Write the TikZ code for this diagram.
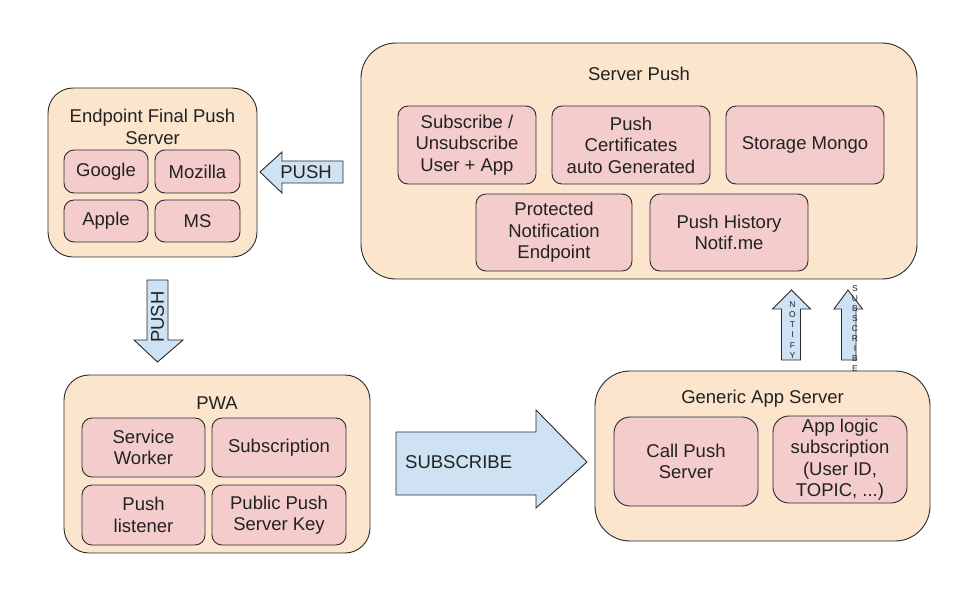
\documentclass[tikz,border=0pt]{standalone}
\usepackage{fontspec}
\setmainfont{Liberation Sans}
\definecolor{peach}{HTML}{FCE5CD}
\definecolor{pinkbox}{HTML}{F4CCCC}
\definecolor{bluearrow}{HTML}{CFE2F3}
\definecolor{ink}{HTML}{222222}
\definecolor{edge}{HTML}{2A2A2A}
\begin{document}
\begin{tikzpicture}[x=1pt,y=-1pt,
  txt/.style={text=ink,font=\fontsize{18.5}{21.5}\selectfont,align=center,inner sep=0pt},
  outerbox/.style={draw=edge,fill=peach,line width=0.9pt,inner sep=0pt},
  innerbox/.style={draw=edge,fill=pinkbox,line width=0.9pt,rounded corners=10pt,inner sep=0pt,txt},
  blockarrow/.style={draw=edge,fill=bluearrow,line width=0.9pt},
  tiny/.style={text=ink,font=\fontsize{8.5}{10.1}\selectfont,align=center,inner sep=0pt}]
\useasboundingbox (0,0) rectangle (960,606);
\fill[white] (0,0) rectangle (960,606);

% Endpoint Final Push Server
\node[outerbox,rounded corners=25pt,minimum width=209pt,minimum height=169pt] (ep) at (152.5,172.5) {};
\node[txt] (eptitle) at (152.5,127) {Endpoint Final Push\\Server};
\node[innerbox,minimum width=84pt,minimum height=43pt] (google) at (106,171.5) {Google};
\node[innerbox,minimum width=85pt,minimum height=43pt] (mozilla) at (197.5,171.5) {Mozilla};
\node[innerbox,minimum width=84pt,minimum height=42pt] (apple) at (106,221) {Apple};
\node[innerbox,minimum width=85pt,minimum height=42pt] (ms) at (197.5,221) {MS};

% Server Push
\node[outerbox,rounded corners=35pt,minimum width=556pt,minimum height=236pt] (sp) at (639,161) {};
\node[txt] (sptitle) at (639,74) {Server Push};
\node[innerbox,minimum width=138pt,minimum height=78pt] (subs) at (467,145) {Subscribe /\\Unsubscribe\\User + App};
\node[innerbox,minimum width=158pt,minimum height=78pt] (cert) at (631,145) {Push\\Certificates\\auto Generated};
\node[innerbox,minimum width=158pt,minimum height=78pt] (mongo) at (805,145) {Storage Mongo};
\node[innerbox,minimum width=156pt,minimum height=77pt] (prot) at (554,232.5) {Protected\\Notification\\Endpoint};
\node[innerbox,minimum width=158pt,minimum height=77pt] (hist) at (729,232.5) {Push History\\Notif.me};

% Generic App Server
\node[outerbox,rounded corners=35pt,minimum width=335pt,minimum height=170pt] (gas) at (762.5,456) {};
\node[txt] (gastitle) at (762.5,399) {Generic App Server};
\node[innerbox,rounded corners=16pt,minimum width=144pt,minimum height=89pt] (call) at (686,461.5) {Call Push\\Server};
\node[innerbox,rounded corners=16pt,minimum width=134pt,minimum height=87pt] (logic) at (840,459.5) {App logic\\subscription\\(User ID,\\TOPIC, ...)};

% PWA
\node[outerbox,rounded corners=25pt,minimum width=306pt,minimum height=178pt] (pwa) at (217,464) {};
\node[txt] (pwatitle) at (217,403) {PWA};
\node[innerbox,minimum width=123pt,minimum height=59pt] (sw) at (143.5,447.5) {Service\\Worker};
\node[innerbox,minimum width=134pt,minimum height=59pt] (subn) at (279,447.5) {Subscription};
\node[innerbox,minimum width=123pt,minimum height=60pt] (pl) at (143.5,515) {Push\\listener};
\node[innerbox,minimum width=134pt,minimum height=60pt] (key) at (279,515) {Public Push\\Server Key};

% Block arrows
\draw[blockarrow] (260,172) -- (282,152) -- (282,161) -- (343,161) -- (343,183) -- (282,183) -- (282,193) -- cycle;
\node[txt] (pushl) at (306,172) {PUSH};

\draw[blockarrow] (147,280) -- (168,280) -- (168,340) -- (183,340) -- (157.5,362) -- (134,340) -- (147,340) -- cycle;
\node[txt,rotate=90] (pushd) at (157.5,317) {PUSH};

\draw[blockarrow] (791.5,290) -- (810.5,309) -- (800.5,309) -- (800.5,360) -- (781.5,360) -- (781.5,309) -- (772.5,309) -- cycle;
\node[tiny] (notify) at (792.5,330) {N\\O\\T\\I\\F\\Y};

\draw[blockarrow] (848,290) -- (862.5,309) -- (856,309) -- (856,360) -- (841.5,360) -- (841.5,309) -- (834,309) -- cycle;
\node[tiny] (subsv) at (855,328.5) {S\\U\\B\\S\\C\\R\\I\\B\\E};

\draw[blockarrow] (396,432) -- (536,432) -- (536,410) -- (587,462) -- (536,508) -- (536,495) -- (396,495) -- cycle;
\node[txt,anchor=west] (subsbig) at (405,462) {SUBSCRIBE};
\end{tikzpicture}
\end{document}
